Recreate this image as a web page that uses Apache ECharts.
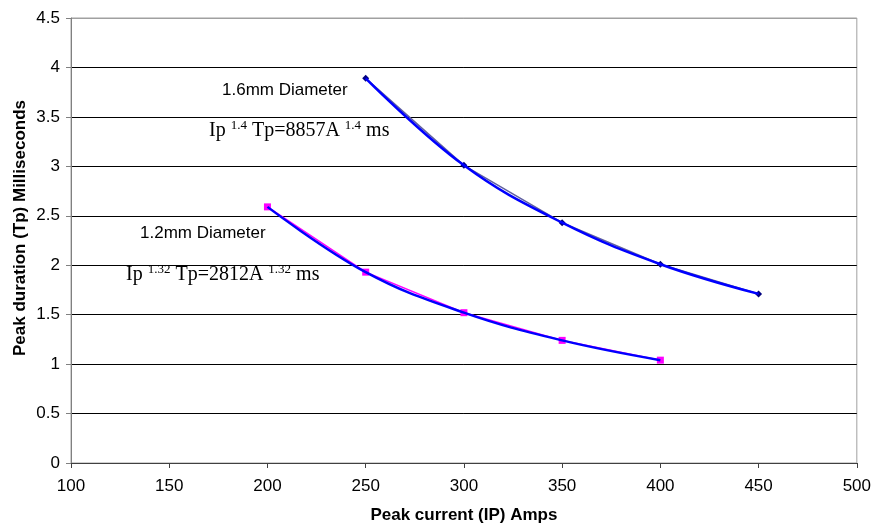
<!DOCTYPE html>
<html>
<head>
<meta charset="utf-8">
<script src="https://cdn.jsdelivr.net/npm/echarts@6/dist/echarts.min.js"></script>
<style>
  html, body { margin: 0; padding: 0; background: #fff; }
  #chart { width: 874px; height: 529px; }
</style>
</head>
<body>
<div id="chart"></div>
<script>
// Peak current (A) against peak duration (ms) for two wire diameters
const currents16 = [250, 300, 350, 400, 450];
const duration16 = [3.89, 3.01, 2.43, 2.01, 1.71];
const currents12 = [200, 250, 300, 350, 400];
const duration12 = [2.59, 1.93, 1.52, 1.24, 1.04];
const xTicks = [100, 150, 200, 250, 300, 350, 400, 450, 500];
const yTicks = [0, 0.5, 1, 1.5, 2, 2.5, 3, 3.5, 4, 4.5];

const pairs = (xs, ys) => xs.map((x, i) => [x, ys[i]]);

const chart = echarts.init(document.getElementById('chart'));

const sansFont = '"Liberation Sans", Arial, sans-serif';
const serifFont = '"Liberation Serif", "Times New Roman", serif';

function formulaText(exp, coef) {
  return '{a|Ip }{s|' + exp + '}{a| Tp=' + coef + 'A }{s|' + exp + '}{a| ms}';
}
const formulaRich = {
  a: { fontFamily: serifFont, fontSize: 20, color: '#000', lineHeight: 22, verticalAlign: 'bottom' },
  s: { fontFamily: serifFont, fontSize: 13, color: '#000', lineHeight: 22, verticalAlign: 'top' }
};

// horizontal grid lines are black; the top one belongs to the plot frame
const gridColors = yTicks.map((v, i) => (i === yTicks.length - 1 ? '#a0a0a0' : '#000'));

chart.setOption({
  animation: false,
  backgroundColor: '#fff',
  grid: { left: 71, right: 16, top: 18, bottom: 64, show: true, borderColor: '#a0a0a0', borderWidth: 1 },
  xAxis: {
    type: 'value',
    min: xTicks[0],
    max: xTicks[xTicks.length - 1],
    interval: 50,
    name: 'Peak current (IP) Amps',
    nameLocation: 'middle',
    nameGap: 44,
    nameTextStyle: { fontFamily: sansFont, fontSize: 17, fontWeight: 'bold', color: '#000' },
    axisLine: { show: true, lineStyle: { color: '#404040', width: 1 } },
    axisTick: { show: true, length: 5, lineStyle: { color: '#404040' } },
    axisLabel: { fontFamily: sansFont, fontSize: 17, color: '#000', margin: 15 },
    splitLine: { show: false }
  },
  yAxis: {
    type: 'value',
    min: yTicks[0],
    max: yTicks[yTicks.length - 1],
    interval: 0.5,
    axisLine: { show: true, lineStyle: { color: '#808080', width: 1 } },
    axisTick: { show: true, length: 5, lineStyle: { color: '#808080' } },
    axisLabel: { fontFamily: sansFont, fontSize: 17, color: '#000', margin: 11 },
    splitLine: { show: true, lineStyle: { color: gridColors, width: 1 } }
  },
  series: [
    {
      name: '1.6mm',
      type: 'line',
      data: pairs(currents16, duration16),
      lineStyle: { color: '#6060a0', width: 1.5 },
      symbol: 'diamond',
      symbolSize: 7,
      itemStyle: { color: '#000080' },
      z: 3
    },
    {
      name: '1.2mm',
      type: 'line',
      data: pairs(currents12, duration12),
      lineStyle: { color: '#ff00ff', width: 1.5 },
      symbol: 'rect',
      symbolSize: 7,
      itemStyle: { color: '#ff00ff' },
      z: 3
    },
    {
      name: '1.6mm power trend',
      type: 'line',
      data: pairs(currents16, duration16),
      smooth: 0.4,
      showSymbol: false,
      symbol: 'none',
      lineStyle: { color: '#0000ff', width: 2.5 },
      z: 4
    },
    {
      name: '1.2mm power trend',
      type: 'line',
      data: pairs(currents12, duration12),
      smooth: 0.4,
      showSymbol: false,
      symbol: 'none',
      lineStyle: { color: '#0000ff', width: 2.5 },
      z: 4
    }
  ],
  graphic: [
    // vertical axis title, centred on the chart area rather than the plot
    { type: 'text', x: 20, y: 228, rotation: Math.PI / 2,
      style: { text: 'Peak duration (Tp) Milliseconds', font: 'bold 17px ' + sansFont, fill: '#000',
               textAlign: 'center', textVerticalAlign: 'middle' } },
    { type: 'text', left: 222, top: 82,
      style: { text: '1.6mm Diameter', font: '17px ' + sansFont, fill: '#000' } },
    { type: 'text', left: 209, top: 119,
      style: { text: formulaText('1.4', '8857'), rich: formulaRich } },
    { type: 'text', left: 140, top: 225,
      style: { text: '1.2mm Diameter', font: '17px ' + sansFont, fill: '#000' } },
    { type: 'text', left: 126, top: 263,
      style: { text: formulaText('1.32', '2812'), rich: formulaRich } }
  ]
});
</script>
</body>
</html>
